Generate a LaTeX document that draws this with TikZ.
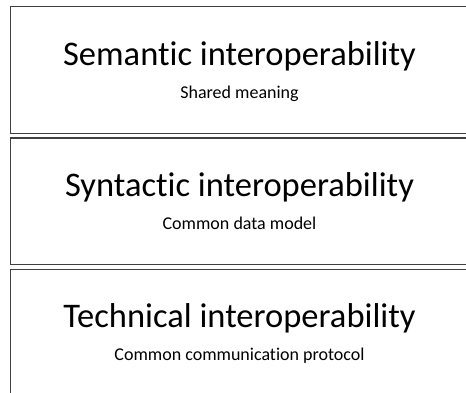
\documentclass[tikz,border=0pt]{standalone}
\usepackage{fontspec}
\setmainfont[Ligatures=NoCommon]{Carlito}
\usepackage{tikz}
\tikzstyle{layer}=[rectangle,draw=black!75,line width=1.3pt,minimum width=458pt,minimum height=126.5pt,align=center,inner sep=0pt,text depth=-8pt]
\newcommand{\layertitle}[1]{{\fontsize{34.5}{31}\selectfont #1}}
\newcommand{\layersub}[1]{{\fontsize{18}{31}\selectfont #1}}

\begin{document}
\begin{tikzpicture}[auto, node distance=131.2pt]
      \path [use as bounding box, clip] (0,0) rectangle (466pt,-392pt);
      \node [layer] (semantic) at (239.5pt,-70pt) {\layertitle{Semantic interoperability}\\[14pt]\layersub{Shared meaning}};
      \node [layer] (syntactic) [below of=semantic] {\layertitle{Syntactic interoperability}\\[14pt]\layersub{Common data model}};
      \node [layer] (technical) [below of=syntactic] {\layertitle{Technical interoperability}\\[14pt]\layersub{Common communication protocol}};
    \end{tikzpicture}
\end{document}
